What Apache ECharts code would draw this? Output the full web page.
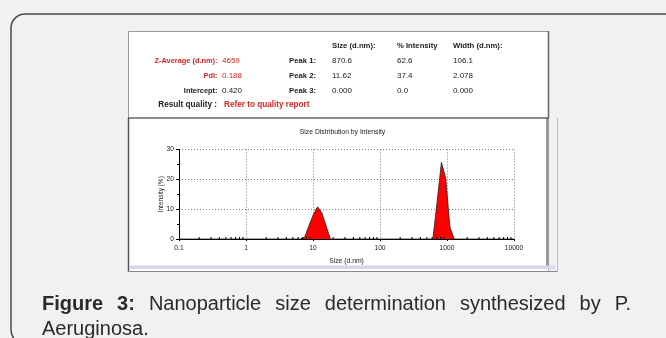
<!DOCTYPE html>
<html><head><meta charset="utf-8">
<script src="https://cdn.jsdelivr.net/npm/echarts@6/dist/echarts.min.js"></script>
<style>html,body{margin:0;padding:0;background:#f0f1f3}#c{width:666px;height:338px}</style>
</head><body><div id="c"></div>
<script>
// ---- data ----
const sizes = [0.1, 6.503, 7.531, 8.721, 10.10, 11.70, 13.54, 15.69, 18.17, 615.1, 712.4, 825.0, 955.4, 1106, 1281, 10000];
const intensity = [0, 0, 0.7, 4.5, 8.2, 10.8, 8.8, 4.4, 0, 0, 12.5, 25.7, 20.5, 4.0, 0, 0];
const xTickLabels = ['0.1', '1', '10', '100', '1000', '10000'];
const yTickLabels = ['0', '10', '20', '30'];
const chartTitle = 'Size Distribution by Intensity';
const xName = 'Size (d.nm)';
const yName = 'Intensity (%)';
const headerCols = ['Size (d.nm):', '% Intensity', 'Width (d.nm):'];
const peakLabels = ['Peak 1:', 'Peak 2:', 'Peak 3:'];
const peakSize = ['870.6', '11.62', '0.000'];
const peakIntensity = ['62.6', '37.4', '0.0'];
const peakWidth = ['106.1', '2.078', '0.000'];
const summaryLabels = ['Z-Average (d.nm):', 'PdI:', 'Intercept:'];
const summaryValues = ['4659', '0.188', '0.420'];
const qualityLabel = 'Result quality :';
const qualityValue = 'Refer to quality report';
const captionLabel = 'Figure 3:';
const captionText = 'Nanoparticle size determination synthesized by P. Aeruginosa.';

// ---- layout ----
const FONT = '"Liberation Sans", Arial, sans-serif';
const RED = '#d02828', DARK = '#222';
const chart = echarts.init(document.getElementById('c'), null, {renderer: 'canvas'});

const g = [];
// outer panel
g.push({type: 'rect', z: -20, shape: {x: 11, y: 14, width: 670, height: 330, r: 14},
  style: {fill: '#f0f1f3', stroke: '#4a4a4a', lineWidth: 1.5}});
// image box
g.push({type: 'rect', z: -10, shape: {x: 128.5, y: 31.5, width: 420, height: 240},
  style: {fill: '#fff', stroke: '#9a9a9a', lineWidth: 1}});
g.push({type: 'line', z: -9, shape: {x1: 128, y1: 118, x2: 549, y2: 118}, style: {stroke: '#666', lineWidth: 1.5}});
g.push({type: 'line', z: -9, shape: {x1: 548.5, y1: 31, x2: 548.5, y2: 118}, style: {stroke: '#666', lineWidth: 1.5}});
g.push({type: 'line', z: -9, shape: {x1: 128.5, y1: 118, x2: 128.5, y2: 272}, style: {stroke: '#555', lineWidth: 1.5}});
g.push({type: 'line', z: -9, shape: {x1: 547, y1: 118, x2: 547, y2: 266}, style: {stroke: '#555', lineWidth: 1.2}});
g.push({type: 'rect', z: -9, shape: {x: 129, y: 265.5, width: 426, height: 3.5}, style: {fill: '#d6d6f0'}});
g.push({type: 'line', z: -9, shape: {x1: 128, y1: 271.5, x2: 558, y2: 271.5}, style: {stroke: '#888', lineWidth: 1}});
g.push({type: 'line', z: -9, shape: {x1: 557.5, y1: 118, x2: 557.5, y2: 272}, style: {stroke: '#bbb', lineWidth: 1}});

function txt(x, y, s, opt) {
  g.push({type: 'text', z: 10, x: x, y: y, style: Object.assign({
    text: s, fill: DARK, font: '7.5px ' + FONT, textAlign: 'left', textVerticalAlign: 'middle'}, opt || {})});
}
// table header
const colX = [332, 397, 453];
headerCols.forEach((h, i) => txt(colX[i], 45.5, h, {font: 'bold 7.7px ' + FONT}));
const rowY = [60.7, 75.7, 90.7];
for (let i = 0; i < 3; i++) {
  const isRed = i < 2;
  txt(217.5, rowY[i], summaryLabels[i], {textAlign: 'right', fill: isRed ? RED : DARK, font: 'bold 7.4px ' + FONT});
  txt(222, rowY[i], summaryValues[i], {fill: isRed ? RED : DARK, font: '8px ' + FONT});
  txt(316, rowY[i], peakLabels[i], {textAlign: 'right', font: 'bold 7.7px ' + FONT});
  txt(colX[0], rowY[i], peakSize[i], {font: '8px ' + FONT});
  txt(colX[1], rowY[i], peakIntensity[i], {font: '8px ' + FONT});
  txt(colX[2], rowY[i], peakWidth[i], {font: '8px ' + FONT});
}
txt(217, 105, qualityLabel, {textAlign: 'right', font: 'bold 8.2px ' + FONT});
txt(224, 105, qualityValue, {fill: RED, font: 'bold 8.2px ' + FONT});

// caption (justified first line)
const cv = document.createElement('canvas').getContext('2d');
const CF = '20px ' + FONT, CFB = 'bold 20px ' + FONT;
const words = captionLabel.split(' ').map(w => ({w, b: true})).concat(captionText.split(' ').map(w => ({w, b: false})));
const left = 42, right = 631, maxW = right - left;
function wid(o) { cv.font = o.b ? CFB : CF; return cv.measureText(o.w).width; }
cv.font = CF; const sp = cv.measureText(' ').width;
const lines = []; let cur = [], curW = 0;
words.forEach(o => {
  const w = wid(o);
  const nw = cur.length ? curW + sp + w : w;
  if (nw > maxW && cur.length) { lines.push(cur); cur = [o]; curW = w; }
  else { cur.push(o); curW = nw; }
});
if (cur.length) lines.push(cur);
const lineY = [304, 329];
lines.forEach((ln, li) => {
  const ws = ln.map(wid);
  const tot = ws.reduce((a, b) => a + b, 0);
  const gap = (li < lines.length - 1 && ln.length > 1) ? (maxW - tot) / (ln.length - 1) : sp;
  let x = left;
  ln.forEach((o, k) => {
    g.push({type: 'text', z: 10, x: x, y: lineY[li], style: {text: o.w, fill: '#2a2a2a',
      font: o.b ? CFB : CF, textAlign: 'left', textVerticalAlign: 'middle'}});
    x += ws[k] + gap;
  });
});

// minor ticks for log axis (2..9 per decade)
const minorTicks = [];
for (let d = -1; d < 4; d++) for (let m = 2; m <= 9; m++) minorTicks.push([m * Math.pow(10, d), 0]);

const dotted = {show: true, lineStyle: {color: '#777', type: [1, 2], width: 1}};
chart.setOption({
  animation: false,
  backgroundColor: '#f0f1f3',
  title: {text: chartTitle, left: 337.5, top: 124, textAlign: 'center',
    textStyle: {fontSize: 6.8, fontWeight: 'normal', color: DARK, fontFamily: FONT}},
  grid: {left: 179, right: 152, top: 149.5, bottom: 99, containLabel: false},
  xAxis: {type: 'log', logBase: 10, min: 0.1, max: 10000,
    name: xName, nameLocation: 'middle', nameGap: 19, nameMoveOverlap: false,
    nameTextStyle: {fontSize: 6.8, color: DARK, fontFamily: FONT},
    axisLine: {lineStyle: {color: '#000', width: 1}},
    axisTick: {show: true, length: 2, lineStyle: {color: '#000'}},
    axisLabel: {fontSize: 6.7, color: DARK, fontFamily: FONT, margin: 6,
      formatter: (v, i) => xTickLabels[i]},
    splitLine: dotted},
  yAxis: {type: 'value', min: 0, max: 30, interval: 10,
    name: yName, nameLocation: 'middle', nameGap: 14, nameRotate: 90, nameMoveOverlap: false,
    nameTextStyle: {fontSize: 6.5, color: DARK, fontFamily: FONT},
    axisLine: {show: true, lineStyle: {color: '#000', width: 1}},
    axisTick: {show: true, length: 3, lineStyle: {color: '#000'}},
    minorTick: {show: true, splitNumber: 2, length: 2, lineStyle: {color: '#000'}},
    axisLabel: {fontSize: 6.7, color: DARK, fontFamily: FONT, margin: 5,
      formatter: (v, i) => yTickLabels[i]},
    splitLine: dotted},
  series: [
    {type: 'line', data: sizes.map((s, i) => [s, intensity[i]]), symbol: 'none', z: 3,
      lineStyle: {color: '#222', width: 0.8}, areaStyle: {color: '#ff0000', opacity: 1}},
    {type: 'custom', data: minorTicks, silent: true, clip: false, z: 4,
      renderItem: (params, api) => {
        const p = api.coord([api.value(0), 0]);
        return {type: 'line', shape: {x1: p[0], y1: p[1], x2: p[0], y2: p[1] - 2},
          style: {stroke: '#000', lineWidth: 1}};
      }}
  ],
  graphic: g
});
</script></body></html>
